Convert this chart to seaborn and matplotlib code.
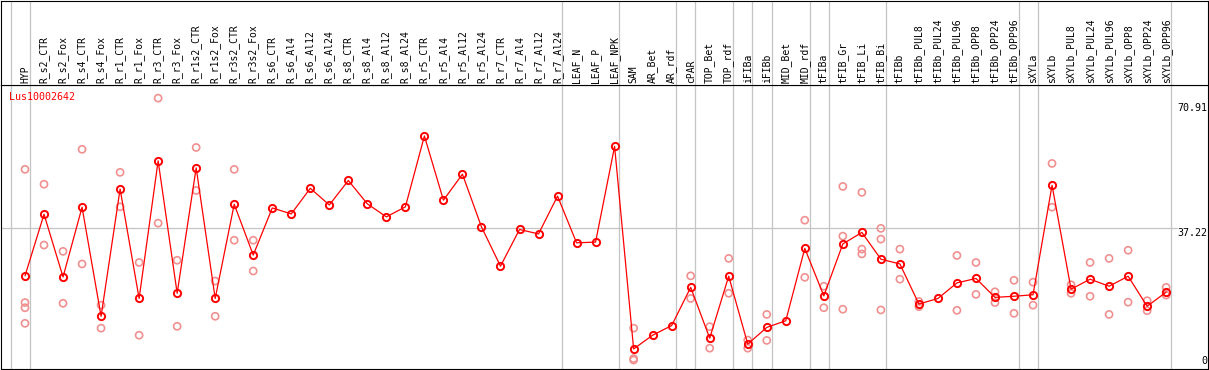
#!/usr/bin/env python3
"""
Expression profile of one gene across tissue samples (mean + replicates).
"""

import pandas as pd
import seaborn as sns
import matplotlib.pyplot as plt
from matplotlib.transforms import blended_transform_factory

gene = "Lus10002642"

samples = [
    "HYP", "R_s2_CTR", "R_s2_Fox", "R_s4_CTR", "R_s4_Fox", "R_r1_CTR", "R_r1_Fox",
    "R_r3_CTR", "R_r3_Fox", "R_r1s2_CTR", "R_r1s2_Fox", "R_r3s2_CTR", "R_r3s2_Fox",
    "R_s6_CTR", "R_s6_Al4", "R_s6_Al12", "R_s6_Al24", "R_s8_CTR", "R_s8_Al4",
    "R_s8_Al12", "R_s8_Al24", "R_r5_CTR", "R_r5_Al4", "R_r5_Al12", "R_r5_Al24",
    "R_r7_CTR", "R_r7_Al4", "R_r7_Al12", "R_r7_Al24", "LEAF_N", "LEAF_P", "LEAF_NPK",
    "SAM", "AR_Bet", "AR_rdf", "cPAR", "TOP_Bet", "TOP_rdf", "iFIBa", "iFIBb",
    "MID_Bet", "MID_rdf", "tFIBa", "tFIB_Gr", "tFIB_Li", "tFIB_Bi", "tFIBb",
    "tFIBb_PUL8", "tFIBb_PUL24", "tFIBb_PUL96", "tFIBb_OPP8", "tFIBb_OPP24",
    "tFIBb_OPP96", "sXYLa", "sXYLb", "sXYLb_PUL8", "sXYLb_PUL24", "sXYLb_PUL96",
    "sXYLb_OPP8", "sXYLb_OPP24", "sXYLb_OPP96",
]

mean_expr = [
    24.3, 40.9, 24.0, 42.8, 13.4, 47.7, 18.2, 55.3, 19.6, 53.4, 18.2, 43.6, 29.9,
    42.6, 41.0, 47.9, 43.4, 50.0, 43.7, 40.2, 42.9, 62.0, 44.7, 51.7, 37.5,
    26.9, 36.8, 35.6, 45.8, 33.2, 33.4, 59.2,
    4.6, 8.3, 10.9, 21.2, 7.5, 24.2, 5.9, 10.4, 12.2, 31.7, 18.9, 32.9, 36.0,
    28.8, 27.5, 16.7, 18.2, 22.4, 23.6, 18.5, 18.8, 19.2, 48.7, 20.7, 23.4,
    21.5, 24.2, 16.1, 19.9,
]

# replicate values per sample (empty where none are shown)
replicates = [
    [53.0, 17.1, 15.7, 11.5], [49.0, 32.6], [30.9, 16.9], [58.4, 27.5], [16.4, 10.2],
    [52.2, 42.9], [27.9, 8.3], [72.2, 38.5], [28.5, 10.7], [58.9, 47.3], [22.9, 13.4],
    [53.0, 33.9], [33.9, 25.6],
    [], [], [], [], [], [], [], [], [], [], [], [], [], [], [], [], [], [], [],
    [10.2, 2.0, 1.6], [], [], [24.3, 18.2], [10.6, 4.8], [29.0, 19.6], [7.0, 4.8],
    [13.9, 6.9], [], [39.3, 23.9], [21.5, 15.7], [48.4, 35.0, 15.3],
    [46.8, 31.5, 30.2], [37.1, 34.2, 15.1], [31.5, 23.4], [16.0, 17.4], [],
    [29.8, 15.0], [27.9, 19.3], [20.0, 17.1], [23.1, 14.2], [22.6, 16.4],
    [54.6, 42.8], [21.9, 19.6], [27.9, 18.8], [29.0, 13.9], [31.2, 17.2],
    [17.6, 14.9], [21.2, 19.1],
]

# last sample index of each tissue group
group_ends = [-1, 0, 28, 31, 34, 35, 37, 38, 39, 41, 42, 45, 52, 53, 60]

y_ticks = [0, 37.22, 70.91]

RED = "#ff0000"
PINK = "#f09090"
GRID = "#c4c4c4"

mean_df = pd.DataFrame({"idx": range(len(samples)), "value": mean_expr})
rep_df = pd.DataFrame(
    [(i, v) for i, vals in enumerate(replicates) for v in vals],
    columns=["idx", "value"],
)

sns.set_theme(style="white")
plt.rcParams["font.family"] = ["DejaVu Sans Mono", "DejaVu Sans"]

W, H = 1209, 370
fig = plt.figure(figsize=(W / 100, H / 100), dpi=100)

xlim = (-1.262, 62.2)
ax = fig.add_axes([1 / W, 1 / H, 1207 / W, 284 / H])
hdr = fig.add_axes([1 / W, 285 / H, 1207 / W, 84.5 / H])

for a in (ax, hdr):
    a.set_xlim(*xlim)
    a.set_xticks([])
    a.set_yticks([])
    a.set_facecolor("white")
    for s in a.spines.values():
        s.set_color("black")
        s.set_linewidth(0.8)
    for g in group_ends:
        a.axvline(g + 0.25, color=GRID, lw=0.9, zorder=0)

hdr.set_ylim(0, 1)
ax.set_ylim(-0.81, 75.74)

# sample names, rotated, in the header strip
for i, name in enumerate(samples):
    hdr.text(i, 0.026, name, rotation=90, ha="center", va="bottom",
             fontsize=7, color="black")

ax.axhline(y_ticks[1], xmin=0, xmax=0.974, color=GRID, lw=0.9, zorder=0)

sns.scatterplot(data=rep_df, x="idx", y="value", ax=ax, marker="o",
                color=PINK, facecolor="none", edgecolor=PINK,
                linewidth=1.2, s=26, zorder=2, legend=False)

sns.lineplot(data=mean_df, x="idx", y="value", ax=ax, color=RED, lw=0.9,
             marker="o", markersize=5.2, markerfacecolor="none",
             markeredgecolor=RED, markeredgewidth=1.4, zorder=3)

ax.set_xlabel("")
ax.set_ylabel("")

# value labels on the right edge
trans = blended_transform_factory(ax.transAxes, ax.transData)
for k, t in enumerate(y_ticks):
    ax.text(0.9995, t, f"{t:g}", transform=trans, ha="right",
            va="bottom" if k == 0 else "top", fontsize=7.2, color="black")

ax.text(8 / 1207, 1 - 12 / 284, gene, transform=ax.transAxes, ha="left",
        va="center", fontsize=7.2, color=RED)

fig.savefig("out.png", dpi=100)
